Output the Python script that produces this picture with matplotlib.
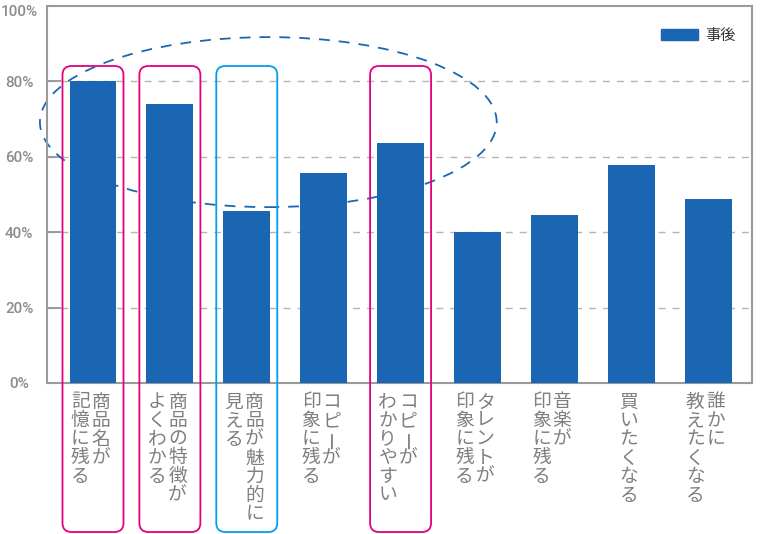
import matplotlib.pyplot as plt
from matplotlib.patches import Ellipse, FancyBboxPatch, Patch
from matplotlib.transforms import IdentityTransform, ScaledTranslation

# ------------------ Data ------------------
labels = ["商品名が\n記憶に残る", "商品の特徴が\nよくわかる", "商品が魅力的に\n見える",
          "コピーが\n印象に残る", "コピーが\nわかりやすい", "タレントが\n印象に残る",
          "音楽が\n印象に残る", "買いたくなる", "誰かに\n教えたくなる"]
values = [80, 74, 45.5, 55.7, 63.7, 40, 44.6, 57.8, 48.8]
series_name = "事後"
yticks = [0, 20, 40, 60, 80, 100]
pink_boxes = [0, 1, 4]
cyan_boxes = [2]

bar_color = "#1a66b2"
gray = "#9a9a9a"

plt.rcParams['font.family'] = ['Noto Sans CJK JP', 'DejaVu Sans']

fig = plt.figure(figsize=(7.6, 5.34), dpi=100)
ax = fig.add_axes([47 / 760, 1 - 383 / 534, 705 / 760, 377 / 534])

x = list(range(len(values)))
ax.bar(x, values, width=0.61, color=bar_color, zorder=3)
ax.set_xlim(-0.598, 8.57)
ax.set_ylim(0, 100)

# axis styling
for s in ax.spines.values():
    s.set_color(gray)
    s.set_linewidth(1.5)
ax.set_yticks(yticks)
ax.set_yticklabels([f"{v}%" for v in yticks], family='Roboto', fontsize=11,
                   color="#8c8c8c", fontweight='medium', ha='center')
ax.tick_params(axis='y', direction='in', length=10, width=1.4, color=gray, pad=20)
ax.set_xticks([])
# keep the top label inside the figure
top_lab = ax.get_yticklabels()[-1]
top_lab.set_transform(top_lab.get_transform() + ScaledTranslation(0, -5 / 100, fig.dpi_scale_trans))
for v in yticks[1:-1]:
    ax.axhline(v, color="#b5b5b5", lw=1.0, dashes=(5, 5), zorder=1)

# dashed ellipse behind bars
ax.add_patch(Ellipse((2.28, 69.2), 5.94, 45.1, fill=False, ec=bar_color, lw=1.3,
                     ls=(0, (6, 5)), zorder=2, clip_on=False))

# vertical japanese labels (columns right to left)
step = 18.6
col_gap = 20.5
for i, lab in enumerate(labels):
    cols = lab.split("\n")
    n = len(cols)
    for j, col in enumerate(cols):
        dx = -2.5 + (n - 1) / 2 * col_gap - j * col_gap
        for k, ch in enumerate(col):
            rot = 90 if ch == "ー" else 0
            ax.annotate(ch, xy=(i, 0), xycoords='data', xytext=(dx, -19 - k * step),
                        textcoords='offset pixels', ha='center', va='center',
                        fontsize=13.5, color="#7f7f7f", rotation=rot, annotation_clip=False)

# rounded highlight boxes
for idxs, c in [(pink_boxes, "#e4007f"), (cyan_boxes, "#00a0e9")]:
    for i in idxs:
        cx = ax.transData.transform((i, 0))[0]
        ax.add_patch(FancyBboxPatch((cx - 30.5, 2), 61, 466,
                                    boxstyle="round,pad=0,rounding_size=9",
                                    transform=IdentityTransform(), fill=False,
                                    ec=c, lw=1.3, zorder=5, clip_on=False))

# legend
leg = ax.legend(handles=[Patch(color=bar_color, label=series_name)], loc='upper right',
                bbox_to_anchor=(0.977, 0.945), frameon=False, fontsize=11,
                handlelength=2.4, handleheight=0.8, borderpad=0, borderaxespad=0,
                handletextpad=0.5)
for t in leg.get_texts():
    t.set_color("#333333")

plt.savefig("out.png", dpi=100)
